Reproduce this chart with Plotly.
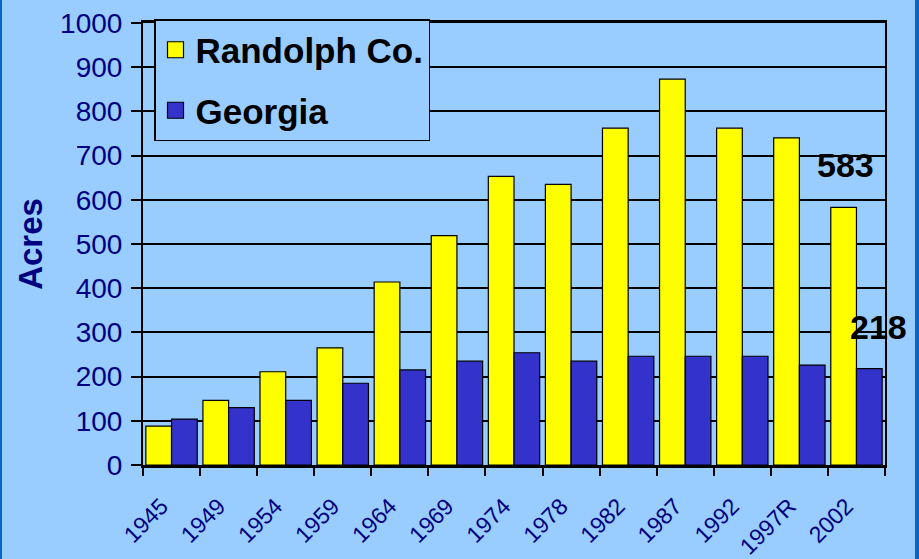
import plotly.graph_objects as go

years = ["1945", "1949", "1954", "1959", "1964", "1969", "1974", "1978",
         "1982", "1987", "1992", "1997R", "2002"]
randolph = [88, 146, 211, 265, 414, 519, 653, 635, 762, 873, 762, 740, 583]
georgia = [104, 130, 146, 185, 215, 235, 254, 235, 246, 246, 246, 226, 218]
y_ticks = [0, 100, 200, 300, 400, 500, 600, 700, 800, 900, 1000]

W, H = 919, 559
L, R, T, B = 143, 34, 23, 94
pw = W - L - R
ph = H - T - B

BG = "#99CCFF"
NAVY = "#000080"
YELLOW = "#FFFF00"
BLUE = "#3333CC"
FONT = "Liberation Sans, Arial"

fig = go.Figure()
fig.add_trace(go.Bar(x=years, y=randolph, name="Randolph Co.", showlegend=False,
                     marker=dict(color=YELLOW, line=dict(color="black", width=1.2))))
fig.add_trace(go.Bar(x=years, y=georgia, name="Georgia", showlegend=False,
                     marker=dict(color=BLUE, line=dict(color="black", width=1.2))))

# legend entries (square swatches)
fig.add_trace(go.Scatter(x=[None], y=[None], mode="markers", name="<b>Randolph Co.</b>",
                         legendgroup="a",
                         marker=dict(symbol="square", size=22, color=YELLOW,
                                     line=dict(color="black", width=1.2))))
fig.add_trace(go.Scatter(x=[None], y=[None], mode="markers", name="<b>Georgia</b>",
                         legendgroup="b",
                         marker=dict(symbol="square", size=22, color=BLUE,
                                     line=dict(color="black", width=1.2))))

fig.update_layout(
    width=W, height=H,
    margin=dict(l=L, r=R, t=T, b=B, pad=0, autoexpand=False),
    paper_bgcolor=BG, plot_bgcolor=BG,
    barmode="group", bargap=0.1, bargroupgap=0,
    font=dict(family=FONT, color=NAVY),
    showlegend=True,
    legend=dict(x=(154 - L) / pw, y=(465 - 19) / ph, xanchor="left", yanchor="top",
                bgcolor=BG, bordercolor="black", borderwidth=1.5,
                font=dict(size=35, color="black", family=FONT),
                traceorder="grouped", tracegroupgap=12,
                itemsizing="trace"),
    xaxis=dict(type="category", tickangle=-45, tickfont=dict(size=23, color=NAVY),
               ticks="outside", ticklen=8, tickcolor="black", tickwidth=2,
               tickson="boundaries", ticklabelstandoff=16, ticklabelshift=-10,
               automargin=False,
               showline=True, linecolor="black", linewidth=2.5, mirror=True,
               showgrid=False),
    yaxis=dict(range=[0, 1000], tickvals=y_ticks, tickfont=dict(size=28, color=NAVY),
               ticks="outside", ticklen=10, tickcolor="black", tickwidth=2,
               ticklabelstandoff=3, automargin=False,
               showline=True, linecolor="black", linewidth=2, mirror=True,
               showgrid=True, gridcolor="black", gridwidth=1.5,
               zeroline=False,
               title=dict(text="<b>Acres</b>", font=dict(size=33, color=NAVY), standoff=8)),
)

fig.add_annotation(x=(845 - L) / pw, y=(465 - 165) / ph, xref="paper", yref="paper",
                   xanchor="center", yanchor="middle",
                   text="<b>%d</b>" % randolph[-1], showarrow=False,
                   font=dict(size=34, color="black", family=FONT))
fig.add_annotation(x=(878 - L) / pw, y=(465 - 327) / ph, xref="paper", yref="paper",
                   xanchor="center", yanchor="middle",
                   text="<b>%d</b>" % georgia[-1], showarrow=False,
                   font=dict(size=34, color="black", family=FONT))

# outer frame strips
fig.add_shape(type="rect", xref="paper", yref="paper",
              x0=(0 - L) / pw, x1=(2 - L) / pw, y0=-B / ph - 0.1, y1=(H - B) / ph + 0.1,
              fillcolor="#0A64C8", line_width=0, layer="above")
fig.add_shape(type="rect", xref="paper", yref="paper",
              x0=(915 - L) / pw, x1=(W + 5 - L) / pw, y0=-B / ph - 0.1, y1=(H - B) / ph + 0.1,
              fillcolor="#0A64C8", line_width=0, layer="above")

fig.write_html("out.html",
               config={"displayModeBar": False},
               post_script="document.body.style.margin='0';document.body.style.padding='0';"
                           "document.body.style.overflow='hidden';"
                           "document.body.style.background='#99CCFF';")
